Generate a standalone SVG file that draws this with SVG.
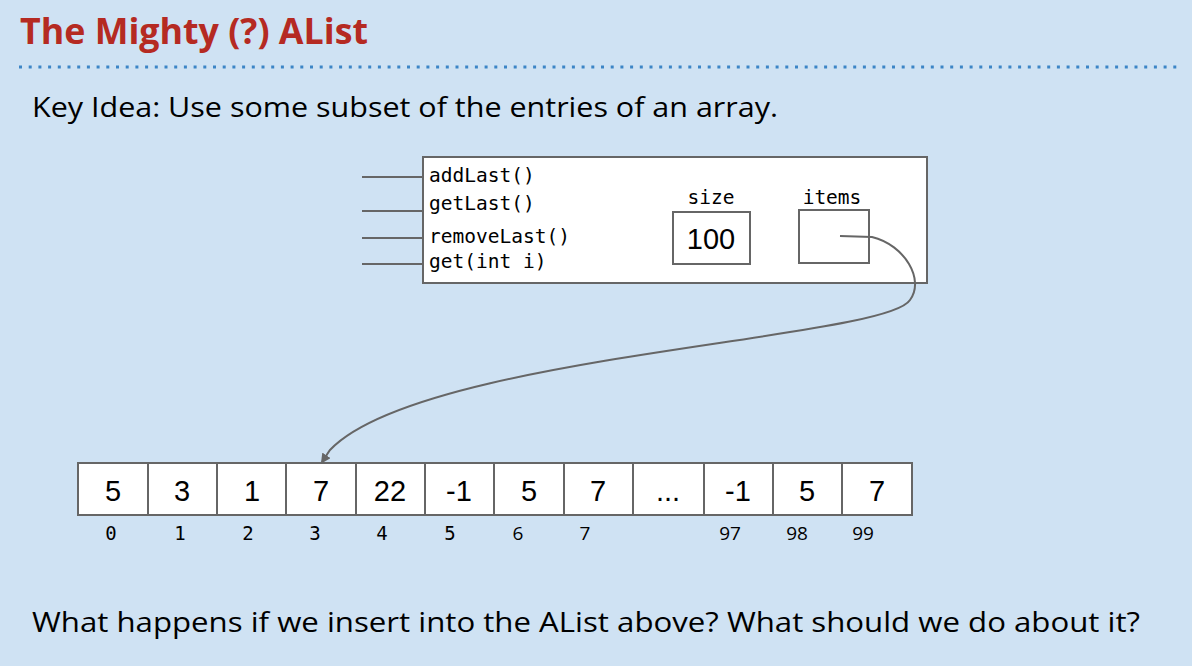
<svg xmlns="http://www.w3.org/2000/svg" width="1192" height="666" viewBox="0 0 1192 666">
<style>
.title{font-family:"Open Sans","Liberation Sans",sans-serif;font-weight:bold;font-size:35px;fill:#b52a22}
.body{font-family:"Open Sans","Liberation Sans",sans-serif;font-size:27px;fill:#000}
.mono{font-family:"DejaVu Sans Mono","Liberation Mono",monospace;font-size:19.5px;fill:#000}
.idx{font-family:"DejaVu Sans Mono","Liberation Mono",monospace;font-size:19px;fill:#000;text-anchor:middle}
.idxs{font-family:"Open Sans","Liberation Sans",sans-serif;font-size:19px;fill:#000;text-anchor:middle}
.val{font-family:"Liberation Sans",Arial,sans-serif;font-size:29px;fill:#000;text-anchor:middle}
.box{fill:#fff;stroke:#666;stroke-width:2}
.ln{stroke:#666;stroke-width:2;fill:none}
</style>
<defs>
<marker id="ah" markerWidth="10" markerHeight="10" refX="8" refY="5" orient="auto" markerUnits="userSpaceOnUse" viewBox="0 0 10 10">
<path d="M0,0 L10,5 L0,10 z" fill="#666"/>
</marker>
</defs>
<rect width="1192" height="666" fill="#cfe2f3"/>
<text class="title" x="20" y="44" textLength="348" lengthAdjust="spacingAndGlyphs">The Mighty (?) AList</text>
<line x1="19" y1="67" x2="1180" y2="67" stroke="#3d85c6" stroke-width="3" stroke-dasharray="3,6.7"/>
<text class="body" x="32" y="117" textLength="746" lengthAdjust="spacingAndGlyphs">Key Idea: Use some subset of the entries of an array.</text>

<g id="alist">
<rect class="box" x="423" y="157" width="504" height="126"/>
<line class="ln" x1="362" y1="177" x2="423" y2="177"/>
<line class="ln" x1="362" y1="211" x2="423" y2="211"/>
<line class="ln" x1="362" y1="238" x2="423" y2="238"/>
<line class="ln" x1="362" y1="264" x2="423" y2="264"/>
<text class="mono" x="429" y="182">addLast()</text>
<text class="mono" x="429" y="210">getLast()</text>
<text class="mono" x="429" y="243">removeLast()</text>
<text class="mono" x="429" y="268">get(int i)</text>
</g>
<g id="size">
<text class="mono" x="711" y="204" text-anchor="middle">size</text>
<rect class="box" x="673" y="212" width="77" height="52"/>
<text class="val" x="711" y="249">100</text>
</g>
<g id="items">
<text class="mono" x="832" y="204" text-anchor="middle">items</text>
<rect class="box" x="799" y="210" width="70" height="53"/>
</g>

<g id="array">
<rect class="box" x="78" y="463" width="834" height="52"/>
<g class="ln">
<line x1="148" y1="463" x2="148" y2="515"/>
<line x1="217" y1="463" x2="217" y2="515"/>
<line x1="286" y1="463" x2="286" y2="515"/>
<line x1="356" y1="463" x2="356" y2="515"/>
<line x1="425" y1="463" x2="425" y2="515"/>
<line x1="494" y1="463" x2="494" y2="515"/>
<line x1="564" y1="463" x2="564" y2="515"/>
<line x1="633" y1="463" x2="633" y2="515"/>
<line x1="704" y1="463" x2="704" y2="515"/>
<line x1="773" y1="463" x2="773" y2="515"/>
<line x1="842" y1="463" x2="842" y2="515"/>
</g>
<text class="val" x="113" y="501">5</text>
<text class="val" x="182" y="501">3</text>
<text class="val" x="252" y="501">1</text>
<text class="val" x="321" y="501">7</text>
<text class="val" x="390" y="501">22</text>
<text class="val" x="459" y="501">-1</text>
<text class="val" x="529" y="501">5</text>
<text class="val" x="598" y="501">7</text>
<text class="val" x="668" y="501">...</text>
<text class="val" x="738" y="501">-1</text>
<text class="val" x="807" y="501">5</text>
<text class="val" x="877" y="501">7</text>
<text class="idx" x="111" y="540">0</text>
<text class="idx" x="180" y="540">1</text>
<text class="idx" x="248" y="540">2</text>
<text class="idx" x="315" y="540">3</text>
<text class="idx" x="382" y="540">4</text>
<text class="idx" x="450" y="540">5</text>
<text class="idxs" x="518" y="540">6</text>
<text class="idxs" x="585" y="540">7</text>
<text class="idxs" x="730" y="540">97</text>
<text class="idxs" x="797" y="540">98</text>
<text class="idxs" x="863" y="540">99</text>
</g>

<g id="connectors">
<path class="ln" d="M840 236 L872 237 C905 245 925 280 910 300 C885 340 420 355 330 450 L322 462" marker-end="url(#ah)"/>
</g>

<text class="body" x="32" y="632" textLength="1108" lengthAdjust="spacingAndGlyphs">What happens if we insert into the AList above? What should we do about it?</text>
</svg>
